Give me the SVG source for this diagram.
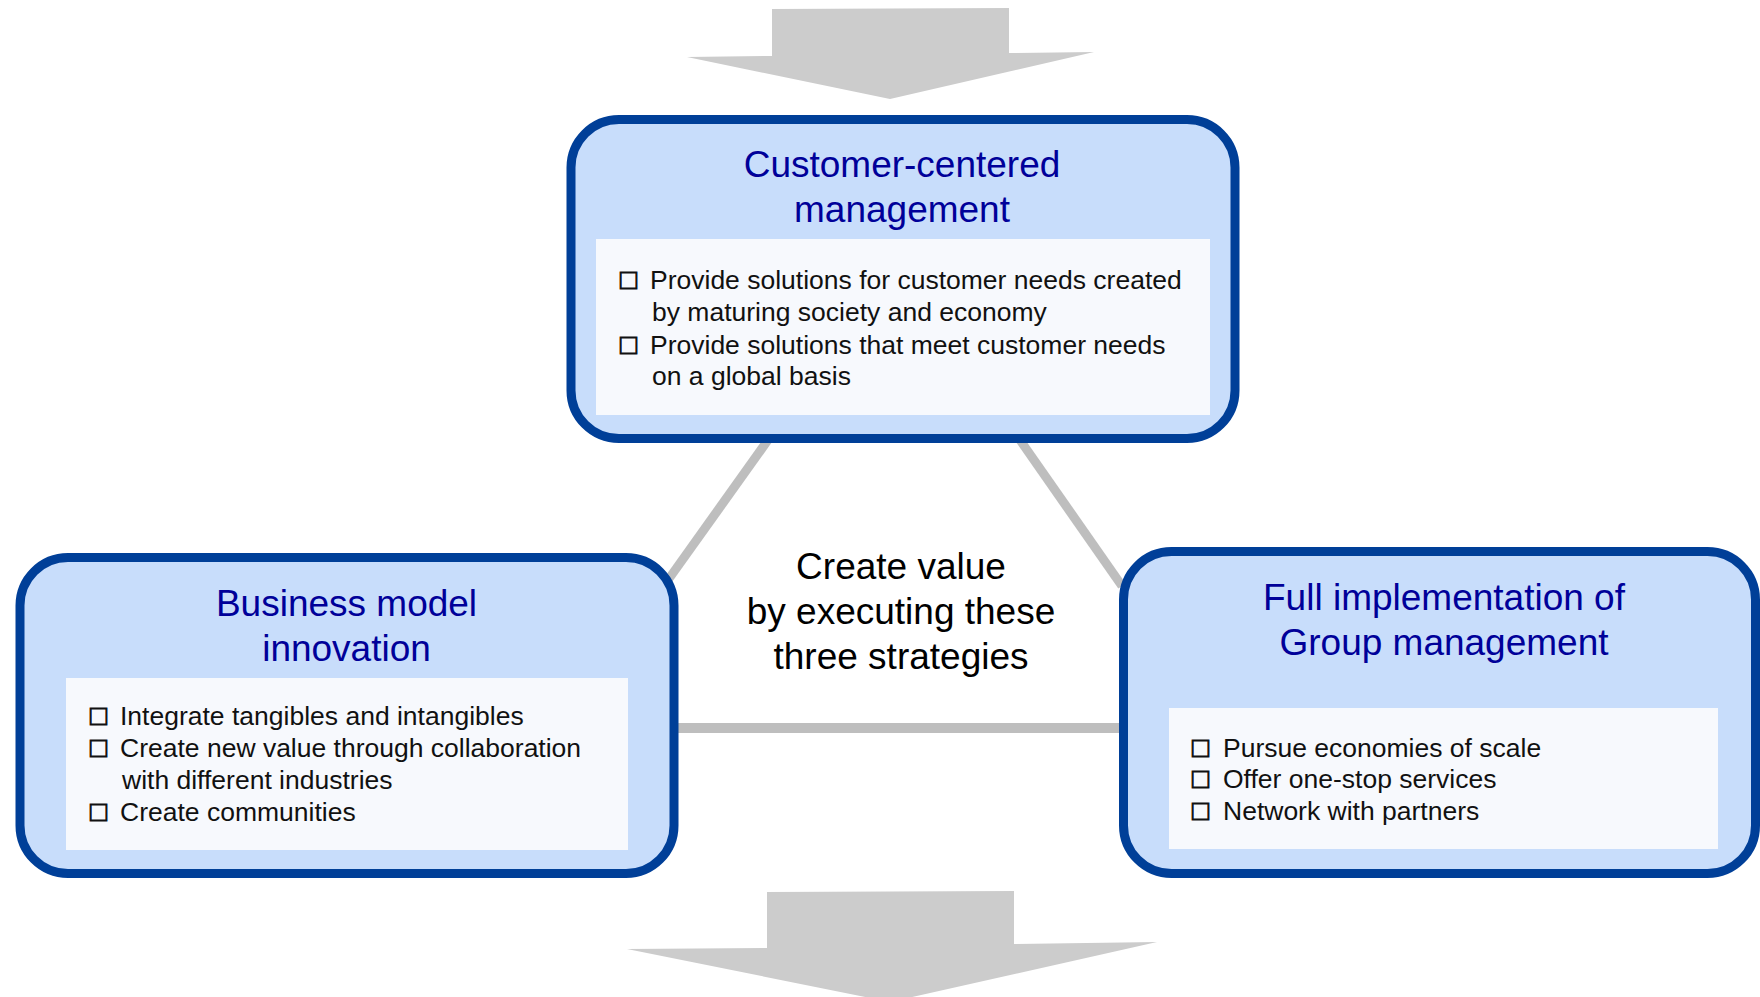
<svg xmlns="http://www.w3.org/2000/svg" width="1760" height="997" viewBox="0 0 1760 997">
<style>
.box{fill:#C8DDFB;stroke:#003F98;stroke-width:9}
.inner{fill:#F7F9FD}
.title{font-family:"Liberation Sans",Arial,sans-serif;font-size:37px;fill:#000099;text-anchor:middle}
.item{font-family:"Liberation Sans",Arial,sans-serif;font-size:26.5px;fill:#111111}
.cb{font-family:"Liberation Sans","DejaVu Sans",sans-serif;font-size:28px;stroke:#111111;stroke-width:0.9}
.center{font-family:"Liberation Sans",Arial,sans-serif;font-size:37px;fill:#000000;text-anchor:middle}
.link{stroke:#BEBEBE;stroke-width:9;fill:none}
.arrow{fill:#CCCCCC}
</style>
<rect width="1760" height="997" fill="#FFFFFF"/>
<g id="arrows">
<polygon class="arrow" points="772,9 1009,8 1009,53 1094,52 890,99 687,57 772,56"/>
<polygon class="arrow" points="767,892 1014,891 1014,944 1157,942 890,1002 627,949 767,948"/>
</g>
<g id="connectors">
<line class="link" x1="768" y1="440" x2="668" y2="580"/>
<line class="link" x1="1020" y1="440" x2="1122" y2="586"/>
<line class="link" x1="676" y1="728" x2="1122" y2="728" style="stroke-width:10"/>
</g>
<g id="center-text">
<text class="center" x="901" y="579">Create value</text>
<text class="center" x="901" y="624">by executing these</text>
<text class="center" x="901" y="669">three strategies</text>
</g>
<g id="node-customer">
<rect class="box" x="571" y="119.5" width="664" height="319" rx="48" ry="48"/>
<rect class="inner" x="596" y="239" width="614" height="176"/>
<text class="title" x="902" y="177">Customer-centered</text>
<text class="title" x="902" y="222">management</text>
<text class="item" x="620" y="289"><tspan class="cb">□</tspan><tspan x="650">Provide solutions for customer needs created</tspan></text>
<text class="item" x="652" y="321">by maturing society and economy</text>
<text class="item" x="620" y="354"><tspan class="cb">□</tspan><tspan x="650">Provide solutions that meet customer needs</tspan></text>
<text class="item" x="652" y="385">on a global basis</text>
</g>
<g id="node-business">
<rect class="box" x="20" y="557.5" width="654" height="316" rx="48" ry="48"/>
<rect class="inner" x="66" y="678" width="562" height="172"/>
<text class="title" x="346.5" y="616">Business model</text>
<text class="title" x="346.5" y="661">innovation</text>
<text class="item" x="90" y="725"><tspan class="cb">□</tspan><tspan x="120">Integrate tangibles and intangibles</tspan></text>
<text class="item" x="90" y="757"><tspan class="cb">□</tspan><tspan x="120">Create new value through collaboration</tspan></text>
<text class="item" x="122" y="789">with different industries</text>
<text class="item" x="90" y="821"><tspan class="cb">□</tspan><tspan x="120">Create communities</tspan></text>
</g>
<g id="node-group">
<rect class="box" x="1123.5" y="551.5" width="632" height="322" rx="48" ry="48"/>
<rect class="inner" x="1169" y="708" width="549" height="141"/>
<text class="title" x="1444" y="610">Full implementation of</text>
<text class="title" x="1444" y="655">Group management</text>
<text class="item" x="1192" y="757"><tspan class="cb">□</tspan><tspan x="1223">Pursue economies of scale</tspan></text>
<text class="item" x="1192" y="788"><tspan class="cb">□</tspan><tspan x="1223">Offer one-stop services</tspan></text>
<text class="item" x="1192" y="820"><tspan class="cb">□</tspan><tspan x="1223">Network with partners</tspan></text>
</g>
</svg>
